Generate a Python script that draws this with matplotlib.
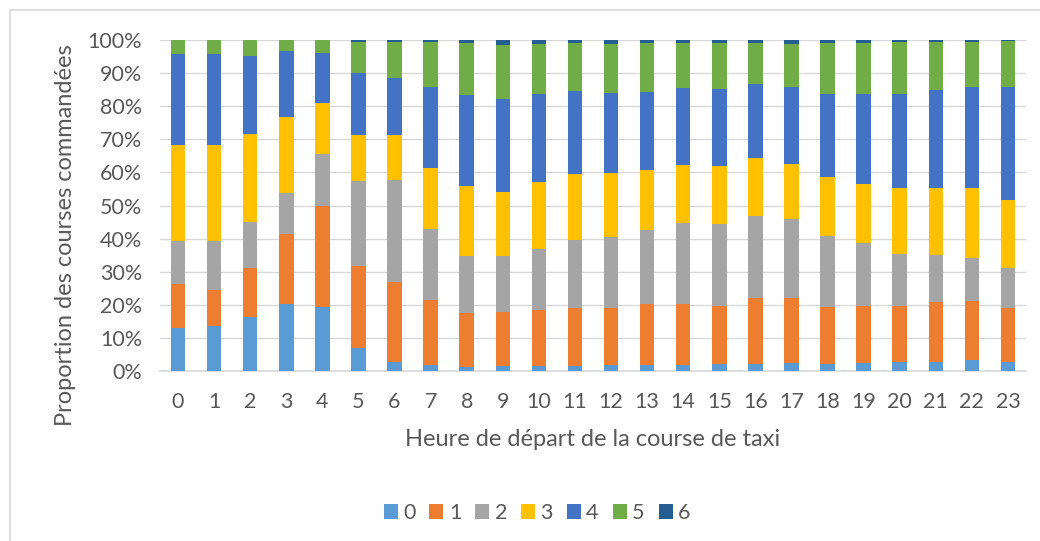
import matplotlib
matplotlib.use("Agg")
import matplotlib.pyplot as plt
from matplotlib.patches import Rectangle
from matplotlib.ticker import PercentFormatter
import numpy as np

plt.rcParams['font.family'] = ['Lato', 'DejaVu Sans']

hours = list(range(24))
series_names = ["0", "1", "2", "3", "4", "5", "6"]
colors = ["#5B9BD5", "#ED7D31", "#A5A5A5", "#FFC000", "#4472C4", "#70AD47", "#255E91"]

# share (%) of rides per hour, one list per series
s0 = [12.9, 13.5, 16.3, 20.1, 19.3, 6.9, 2.6, 1.8, 1.3, 1.4, 1.4, 1.6,
      1.9, 1.7, 1.9, 2.0, 2.1, 2.3, 2.2, 2.3, 2.6, 2.7, 3.4, 2.7]
s1 = [13.4, 10.9, 14.9, 21.3, 30.5, 24.8, 24.2, 19.6, 16.1, 16.4, 17.1, 17.5,
      17.0, 18.4, 18.2, 17.6, 20.1, 19.9, 17.1, 17.3, 16.9, 18.0, 17.6, 16.3]
s2 = [13.1, 14.8, 13.7, 12.3, 15.8, 25.7, 30.9, 21.4, 17.2, 16.9, 18.5, 20.4,
      21.7, 22.4, 24.6, 24.7, 24.6, 23.8, 21.4, 19.0, 15.8, 14.2, 13.0, 12.1]
s3 = [28.8, 29.0, 26.7, 23.1, 15.3, 13.9, 13.6, 18.6, 21.3, 19.3, 20.0, 20.0,
      19.2, 18.2, 17.6, 17.5, 17.4, 16.4, 17.8, 17.9, 20.1, 20.3, 21.4, 20.6]
s4 = [27.5, 27.6, 23.5, 20.0, 15.1, 18.7, 17.1, 24.3, 27.5, 28.1, 26.8, 25.1,
      24.2, 23.6, 23.2, 23.5, 22.6, 23.3, 25.3, 27.2, 28.4, 29.7, 30.5, 34.0]
s5 = [4.3, 4.2, 4.9, 3.2, 4.0, 9.5, 11.0, 13.6, 15.6, 16.5, 14.9, 14.5,
      14.9, 14.8, 13.6, 13.8, 12.4, 13.2, 15.3, 15.5, 15.6, 14.5, 13.5, 13.9]
s6 = [0.0, 0.0, 0.0, 0.0, 0.0, 0.5, 0.6, 0.7, 1.0, 1.4, 1.3, 0.9,
      1.1, 0.9, 0.9, 0.9, 0.8, 1.1, 0.9, 0.8, 0.6, 0.6, 0.6, 0.4]

W, H = 1040, 541
fig = plt.figure(figsize=(W / 100, H / 100), dpi=100)
ax = fig.add_axes([160 / W, 1 - 371 / H, 866 / W, 331 / H])

text_col = "#595959"
bottom = np.zeros(len(hours))
handles = []
for name, vals, col in zip(series_names, [s0, s1, s2, s3, s4, s5, s6], colors):
    vals = np.array(vals) / 100
    b = ax.bar(hours, vals, 0.4, bottom=bottom, color=col, label=name, zorder=3)
    handles.append(b)
    bottom += vals

ax.set_xlim(-0.5, 23.5)
ax.set_ylim(0, 1)
ax.set_yticks(np.arange(0, 1.01, 0.1))
ax.yaxis.set_major_formatter(PercentFormatter(1.0, decimals=0))
ax.set_xticks(hours)
ax.grid(axis='y', color="#d9d9d9", linewidth=1, zorder=0)
for side in ["top", "right", "left"]:
    ax.spines[side].set_visible(False)
ax.spines["bottom"].set_color("#d9d9d9")
ax.spines["bottom"].set_linewidth(1.2)
ax.tick_params(length=0, labelsize=15.5, colors=text_col)
ax.tick_params(axis='y', pad=13)
ax.tick_params(axis='x', pad=15)

fig.text(593 / W, 1 - 440 / H, "Heure de départ de la course de taxi",
         ha="center", va="center", fontsize=17, color=text_col)
fig.text(66 / W, 1 - 235 / H, "Proportion des courses commandées",
         ha="center", va="center", rotation=90, fontsize=17, color=text_col)

leg = fig.legend(handles=handles, loc="center", bbox_to_anchor=(537 / W, 1 - 513 / H),
                 ncol=7, frameon=False, fontsize=15.5, handlelength=0.65, handleheight=0.65,
                 handletextpad=0.25, columnspacing=0.65)
for t in leg.get_texts():
    t.set_color(text_col)

fig.patches.append(Rectangle((10 / W, -0.1), 1.1, 1 - 10 / H + 0.1, transform=fig.transFigure,
                             fill=False, edgecolor="#d9d9d9", linewidth=1.2))

fig.savefig("out.png", dpi=100)
